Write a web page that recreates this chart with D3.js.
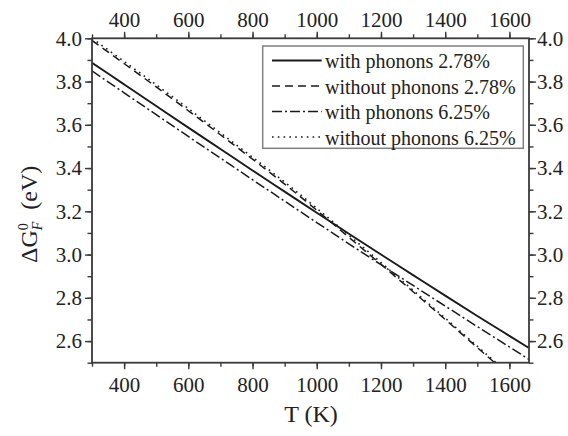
<!DOCTYPE html>
<html>
<head>
<meta charset="utf-8">
<script src="https://cdn.jsdelivr.net/npm/d3@7"></script>
<style>
  html, body { margin: 0; padding: 0; background: #fff; }
  svg { display: block; }
</style>
</head>
<body>
<svg id="chart" width="568" height="436"></svg>
<script>
// Formation free energy versus temperature
const temps = [300, 400, 500, 600, 700, 800, 900, 1000, 1100, 1200, 1300, 1400, 1500, 1600, 1660];
const withPhonons278 = [3.887, 3.787, 3.687, 3.587, 3.488, 3.389, 3.291, 3.193, 3.096, 3.000, 2.905, 2.810, 2.716, 2.624, 2.569];
const withoutPhonons278 = [3.990, 3.883, 3.775, 3.665, 3.554, 3.441, 3.326, 3.205, 3.080, 2.955, 2.828, 2.700, 2.570, 2.440, 2.362];
const withPhonons625 = [3.849, 3.748, 3.647, 3.546, 3.446, 3.346, 3.247, 3.148, 3.050, 2.953, 2.857, 2.762, 2.667, 2.573, 2.516];
const withoutPhonons625 = [4.000, 3.893, 3.785, 3.675, 3.563, 3.450, 3.335, 3.214, 3.089, 2.963, 2.835, 2.706, 2.576, 2.446, 2.368];

const seriesNames = ["with phonons 2.78%", "without phonons 2.78%", "with phonons 6.25%", "without phonons 6.25%"];
const xTicks = [400, 600, 800, 1000, 1200, 1400, 1600];
const yTicks = [2.6, 2.8, 3.0, 3.2, 3.4, 3.6, 3.8, 4.0];

const seriesValues = [withPhonons278, withoutPhonons278, withPhonons625, withoutPhonons625];
const dashes = [null, "8,5", "10,3,2,3", "1.6,4.2"];
const widths = [1.9, 1.5, 1.5, 1.6];

const FONT = "'Liberation Serif', 'Times New Roman', serif";
const svg = d3.select("#chart").style("font-family", FONT);
const plotL = 92, plotR = 529, plotT = 38.3, plotB = 362.7;

const x = d3.scaleLinear().domain([300, 1661]).range([plotL, plotR]);
const y = d3.scaleLinear().domain([2.5, 4.0]).range([plotB, plotT]);

const axisColor = "#3a3a3a";
const fmtX = d3.format("d");
const fmtY = d3.format(".1f");
const xMinor = d3.range(300, 1661, 100);
const yMinor = d3.range(25, 41, 1).map(v => v / 10);

function styleAxis(g) {
  g.attr("font-family", FONT);
  g.select(".domain").remove();
  g.selectAll("line").attr("stroke", axisColor).attr("stroke-width", 1.4);
  g.selectAll("text").attr("font-size", 21).attr("fill", "#222").style("font-family", FONT);
}

// minor ticks
svg.append("g").attr("transform", `translate(0,${plotB})`)
  .call(d3.axisBottom(x).tickValues(xMinor).tickSize(4).tickFormat(""))
  .call(styleAxis);
svg.append("g").attr("transform", `translate(0,${plotT})`)
  .call(d3.axisTop(x).tickValues(xMinor).tickSize(4).tickFormat(""))
  .call(styleAxis);
svg.append("g").attr("transform", `translate(${plotL},0)`)
  .call(d3.axisLeft(y).tickValues(yMinor).tickSize(4.5).tickFormat(""))
  .call(styleAxis);
svg.append("g").attr("transform", `translate(${plotR},0)`)
  .call(d3.axisRight(y).tickValues(yMinor).tickSize(4.5).tickFormat(""))
  .call(styleAxis);

// major ticks with labels
svg.append("g").attr("transform", `translate(0,${plotB})`)
  .call(d3.axisBottom(x).tickValues(xTicks).tickSize(6.5).tickPadding(8).tickFormat(fmtX))
  .call(styleAxis);
svg.append("g").attr("transform", `translate(0,${plotT})`)
  .call(d3.axisTop(x).tickValues(xTicks).tickSize(6.5).tickPadding(5).tickFormat(fmtX))
  .call(styleAxis);
svg.append("g").attr("transform", `translate(${plotL},0)`)
  .call(d3.axisLeft(y).tickValues(yTicks).tickSize(7).tickPadding(3).tickFormat(fmtY))
  .call(styleAxis);
svg.append("g").attr("transform", `translate(${plotR},0)`)
  .call(d3.axisRight(y).tickValues(yTicks).tickSize(7).tickPadding(1).tickFormat(fmtY))
  .call(styleAxis);

// clip for the curves
svg.append("defs").append("clipPath").attr("id", "plot-clip")
  .append("rect").attr("x", plotL).attr("y", plotT).attr("width", plotR - plotL).attr("height", plotB - plotT);

const line = d3.line()
  .x(d => x(d[0]))
  .y(d => y(d[1]))
  .curve(d3.curveMonotoneX);

const curves = svg.append("g").attr("clip-path", "url(#plot-clip)");
seriesValues.forEach((vals, i) => {
  curves.append("path")
    .datum(temps.map((t, j) => [t, vals[j]]))
    .attr("fill", "none")
    .attr("stroke", "#1a1a1a")
    .attr("stroke-width", widths[i])
    .attr("stroke-dasharray", dashes[i])
    .attr("d", line);
});

// frame
svg.append("rect")
  .attr("x", plotL).attr("y", plotT)
  .attr("width", plotR - plotL).attr("height", plotB - plotT)
  .attr("fill", "none").attr("stroke", axisColor).attr("stroke-width", 1.8);

// legend
const lg = svg.append("g");
lg.append("rect")
  .attr("x", 262.7).attr("y", 46).attr("width", 260.6).attr("height", 102.3)
  .attr("fill", "#fff").attr("stroke", "#808080").attr("stroke-width", 1.5);
const rowY = [60.5, 86, 111.5, 137];
seriesNames.forEach((name, i) => {
  lg.append("line")
    .attr("x1", 272).attr("x2", 321.7)
    .attr("y1", rowY[i]).attr("y2", rowY[i])
    .attr("stroke", "#1a1a1a")
    .attr("stroke-width", widths[i])
    .attr("stroke-dasharray", dashes[i]);
  lg.append("text")
    .attr("x", 325).attr("y", rowY[i] + 7.5)
    .attr("font-size", 20)
    .attr("fill", "#222")
    .style("font-family", FONT)
    .text(name);
});

// axis titles
svg.append("text")
  .attr("x", 311).attr("y", 422)
  .attr("text-anchor", "middle")
  .attr("font-size", 24)
  .attr("fill", "#222")
  .style("font-family", FONT)
  .text("T (K)");

const yt = svg.append("text")
  .attr("transform", "translate(37,263) rotate(-90)")
  .attr("font-size", 24)
  .attr("fill", "#222")
  .style("font-family", FONT);
yt.append("tspan").text("\u0394G");
yt.append("tspan").attr("font-size", 14).attr("dy", -9).text("0");
yt.append("tspan").attr("font-size", 14).attr("font-style", "italic").attr("dx", -7).attr("dy", 14).text("F");
yt.append("tspan").attr("dy", -5).attr("dx", 12).text("(eV)");
</script>
</body>
</html>
